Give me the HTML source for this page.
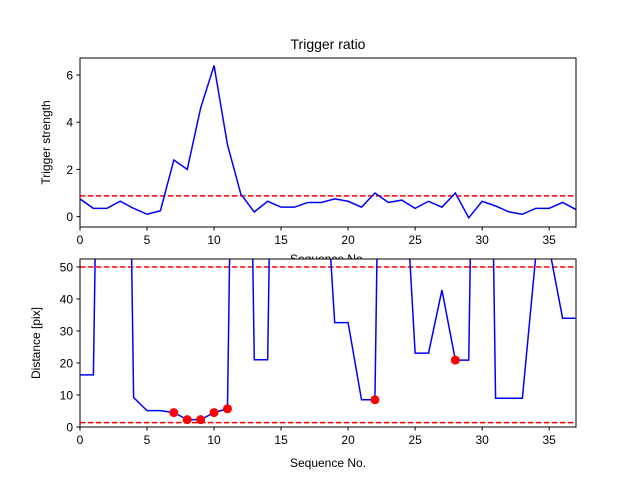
<!DOCTYPE html>
<html><head><meta charset="utf-8"><style>
body{margin:0;background:#fff}
svg{display:block;font-family:"Liberation Sans","DejaVu Sans",sans-serif}
</style></head><body>
<svg id="c" width="640" height="480"></svg>
<script>
const seqTop = [0,1,2,3,4,5,6,7,8,9,10,11,12,13,14,15,16,17,18,19,20,21,22,23,24,25,26,27,28,29,30,31,32,33,34,35,36,37];
const triggerStrength = [0.75,0.35,0.35,0.65,0.35,0.1,0.25,2.4,2.0,4.6,6.4,3.05,0.95,0.2,0.65,0.4,0.4,0.6,0.6,0.75,0.65,0.4,1.0,0.6,0.7,0.35,0.65,0.4,1.0,-0.05,0.65,0.45,0.2,0.1,0.35,0.35,0.6,0.3];
const triggerThreshold = 0.88;
const distance = [16.3,16.3,300,300,9.2,5.1,5.1,4.5,2.3,2.3,4.5,5.7,300,21,21,300,300,300,100,32.6,32.6,8.5,8.5,300,97,23.1,23.1,42.8,20.9,20.9,300,9.0,9.0,9.0,53.5,56,34,34];
const markerSeq = [7,8,9,10,11,22,28];
const markerDist = [4.5,2.3,2.3,4.5,5.7,8.5,20.9];
const distThresholds = [50,1.35];
const xTicks = [0,5,10,15,20,25,30,35];
const topYTicks = [0,2,4,6];
const botYTicks = [0,10,20,30,40,50];

const NS="http://www.w3.org/2000/svg";
const svg=document.getElementById('c');
function el(tag,attrs,parent){const e=document.createElementNS(NS,tag);for(const k in attrs)e.setAttribute(k,attrs[k]);(parent||svg).appendChild(e);return e;}
const L=80,R=576;
const xs=v=>L+(v-0)/37*(R-L);
function axes(name,T,B,ymin,ymax,yTicks,ylabel,showX){
  const ys=v=>B-(v-ymin)/(ymax-ymin)*(B-T);
  const g=el('g',{});
  
  
  const cid=name+'-clip';
  const cp=el('clipPath',{id:cid},g);el('rect',{x:L,y:T,width:R-L,height:B-T},cp);
  return {g,ys,T,B,cid,finish(){
    el('rect',{x:L,y:T,width:R-L,height:B-T,fill:'none',stroke:'#000','stroke-width':1},g);
    xTicks.forEach(t=>{const x=xs(t);el('line',{x1:x,x2:x,y1:B,y2:B+3.5,stroke:'#000'},g);
      const tx=el('text',{x:x,y:B+17,'font-size':12,'text-anchor':'middle'},g);tx.textContent=t;
      });
    yTicks.forEach(t=>{const y=ys(t);el('line',{x1:L-3.5,x2:L,y1:y,y2:y,stroke:'#000'},g);
      const tx=el('text',{x:L-7,y:y+4.5,'font-size':12,'text-anchor':'end'},g);tx.textContent=t;
      });
    const yl=el('text',{x:0,y:0,'font-size':12,'text-anchor':'middle',transform:`translate(${showX},${(T+B)/2}) rotate(-90)`},g);yl.textContent=ylabel;
    
  }};
}
const title=el('text',{x:328,y:49,'font-size':14,'text-anchor':'middle'});title.textContent='Trigger ratio';

const xl1=el('text',{x:328,y:263,'font-size':12,'text-anchor':'middle'});xl1.textContent='Sequence No.';

const A=axes('trigger-axes',58,227,-0.44,6.72,topYTicks,'Trigger strength',50);
const tl=el('line',{x1:L,x2:R,y1:A.ys(triggerThreshold),y2:A.ys(triggerThreshold),stroke:'#f00','stroke-width':1.5,'stroke-dasharray':'5.5,2.5'},A.g);

const p1=el('polyline',{points:seqTop.map((s,i)=>xs(s)+','+A.ys(triggerStrength[i])).join(' '),fill:'none',stroke:'#00f','stroke-width':1.5,'clip-path':`url(#${A.cid})`},A.g);

A.finish();
const B=axes('distance-axes',259,427,0,52.5,botYTicks,'Distance [pix]',40);
const bg=el('rect',{x:L,y:259,width:R-L,height:168,fill:'#fff'},B.g);
distThresholds.forEach(v=>{const l=el('line',{x1:L,x2:R,y1:B.ys(v),y2:B.ys(v),stroke:'#f00','stroke-width':1.5,'stroke-dasharray':'5.5,2.5'},B.g);
  });
const p2=el('polyline',{points:seqTop.map((s,i)=>xs(s)+','+B.ys(distance[i])).join(' '),fill:'none',stroke:'#00f','stroke-width':1.5,'clip-path':`url(#${B.cid})`},B.g);

markerSeq.forEach((s,i)=>{const c=el('circle',{cx:xs(s),cy:B.ys(markerDist[i]),r:4.5,fill:'#f00'},B.g);
  });
B.finish();
const xl2=el('text',{x:328,y:467,'font-size':12,'text-anchor':'middle'});xl2.textContent='Sequence No.';

</script>
</body></html>
